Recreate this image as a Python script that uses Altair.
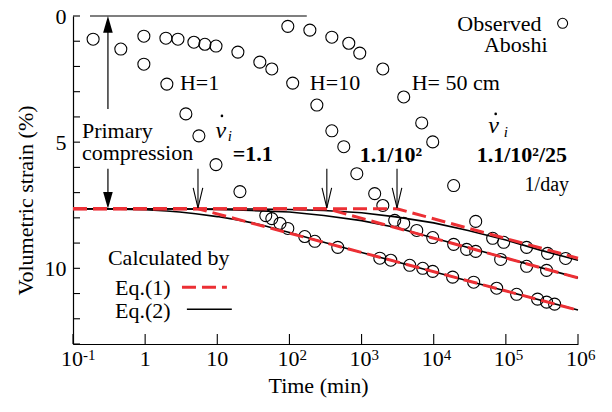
import altair as alt
import pandas as pd

FONT = "Liberation Serif"

# ---------------- data (time in min, volumetric strain in %) ----------------
obs_h1_t = [0.19, 0.46, 0.96, 2.0, 3.67, 5.56, 9.6, 20.6, 47, 57, 74, 95, 163, 225, 468,
            1790, 2540, 4650, 7040, 9690, 18300, 35800, 74600, 141000, 275000, 367000, 474000]
obs_h1_v = [0.92, 1.31, 1.91, 2.70, 3.88, 4.75, 5.89, 6.96, 7.91, 8.03, 8.22, 8.42, 8.74, 8.93, 9.17,
            9.60, 9.68, 9.88, 10.0, 10.12, 10.35, 10.55, 10.79, 11.03, 11.22, 11.34, 11.42]

obs_h10_t = [0.96, 1.94, 2.85, 4.74, 6.73, 9.6, 19.3, 38.9, 57, 111, 240, 387, 567, 859, 1520,
             1970, 2880, 3840, 5820, 9690, 18900, 28600, 38200, 84700, 194000, 367000]
obs_h10_v = [0.80, 0.88, 0.92, 1.04, 1.12, 1.19, 1.43, 1.83, 2.10, 2.66, 3.53, 4.55, 5.18, 6.25, 7.04,
             7.51, 8.10, 8.22, 8.50, 8.78, 9.05, 9.25, 9.33, 9.65, 9.92, 10.08]

obs_h50_t = [95, 192, 387, 665, 944, 1970, 3840, 6820, 9690, 18900, 38200, 65600, 93300, 194000, 379000, 673000]
obs_h50_v = [0.41, 0.56, 0.84, 1.08, 1.47, 2.10, 3.21, 4.24, 4.99, 6.72, 8.14, 8.81, 8.97, 9.17, 9.41, 9.61]

# Eq.(1) (red dashed)
eq1_h1_t = [0.1, 5.4, 1e6]
eq1_h1_v = [7.64, 7.64, 11.66]
eq1_h10_t = [0.1, 330, 1e6]
eq1_h10_v = [7.64, 7.64, 10.38]
eq1_h50_t = [0.1, 3100, 1e6]
eq1_h50_v = [7.64, 7.64, 9.60]

# Eq.(2) (black solid)
eq2_h1_t = [0.1, 0.3, 1, 2, 3, 5, 10, 20, 40, 100, 300, 1000, 1e4, 1e5, 1e6]
eq2_h1_v = [7.64, 7.65, 7.68, 7.73, 7.77, 7.84, 7.95, 8.09, 8.27, 8.58, 8.97, 9.37, 10.14, 10.90, 11.65]
eq2_h10_t = [0.1, 3, 10, 30, 100, 300, 1000, 3000, 1e4, 1e5, 1e6]
eq2_h10_v = [7.64, 7.65, 7.67, 7.71, 7.77, 7.91, 8.11, 8.38, 8.80, 9.59, 10.38]
eq2_h50_t = [0.1, 30, 100, 300, 1000, 3000, 1e4, 3e4, 1e5, 3e5, 1e6]
eq2_h50_v = [7.64, 7.65, 7.67, 7.71, 7.80, 7.96, 8.20, 8.50, 8.88, 9.28, 9.68]

# x tick labels: plain ones and power-of-ten ones (base "10" + exponent)
x_tick_values = [0.1, 1, 10, 100, 1000, 1e4, 1e5, 1e6]
x_plain_ticks = [1, 10]
x_plain_labels = ["1", "10"]
x_pow_ticks = [0.1, 100, 1000, 1e4, 1e5, 1e6]
x_pow_exponents = ["-1", "2", "3", "4", "5", "6"]
y_tick_values = list(range(0, 14))
y_label_values = [0, 5, 10]

kink_times = [5.4, 330, 3100]

# ---------------- frames ----------------
def frame(series):
    rows = []
    for name, ts, vs in series:
        for t, v in zip(ts, vs):
            rows.append({"s": name, "t": t, "v": v})
    return pd.DataFrame(rows)

obs = frame([("H1", obs_h1_t, obs_h1_v), ("H10", obs_h10_t, obs_h10_v), ("H50", obs_h50_t, obs_h50_v)])
eq1 = frame([("H1", eq1_h1_t, eq1_h1_v), ("H10", eq1_h10_t, eq1_h10_v), ("H50", eq1_h50_t, eq1_h50_v)])
eq2 = frame([("H1", eq2_h1_t, eq2_h1_v), ("H10", eq2_h10_t, eq2_h10_v), ("H50", eq2_h50_t, eq2_h50_v)])

W, H = 505, 328
xscale = alt.Scale(type="log", domain=[0.1, 1e6], nice=False)
yscale = alt.Scale(domain=[0, 13], reverse=True, nice=False, zero=False)

x_axis = alt.Axis(values=x_tick_values, labels=False,
                  ticks=False, tickSize=0, grid=False, domainColor="black", domainWidth=1.2,
                  title="Time (min)", titleFont=FONT, titleFontSize=22, titleFontWeight="normal",
                  titleColor="black", titleX=245, titleY=48, titleBaseline="alphabetic")
y_axis = alt.Axis(values=y_label_values, ticks=False, tickSize=0, grid=False, domainColor="black",
                  domainWidth=1.2, labelFont=FONT, labelFontSize=22, labelColor="black", labelPadding=7,
                  labelFlush=False,
                  title="Volumetric strain (%)", titleFont=FONT, titleFontSize=22, titleFontWeight="normal",
                  titleColor="black", titleX=-41, titleY=184, titleBaseline="alphabetic", titleAlign="center")


def X(f="t"):
    return alt.X(f"{f}:Q", scale=xscale, axis=x_axis)


def Y(f="v"):
    return alt.Y(f"{f}:Q", scale=yscale, axis=y_axis)


points = alt.Chart(obs).mark_point(shape="circle", size=144, filled=False, stroke="black",
                                   strokeWidth=1.1, opacity=1).encode(x=X(), y=Y(), detail="s:N")

black_lines = alt.Chart(eq2).mark_line(color="black", strokeWidth=1.6).encode(x=X(), y=Y(), detail="s:N")
red_lines = alt.Chart(eq1).mark_line(color="#ec2f34", strokeWidth=3, strokeDash=[14, 6]).encode(
    x=X(), y=Y(), detail="s:N")

# axis ticks (inward)
yt = alt.Chart(pd.DataFrame({"v": y_tick_values})).mark_rule(color="black", strokeWidth=1.1).encode(
    y=Y(), x=alt.value(0), x2=alt.value(7))
xt = alt.Chart(pd.DataFrame({"t": x_tick_values})).mark_rule(color="black", strokeWidth=1.1).encode(
    x=X(), y=alt.value(H), y2=alt.value(H - 10))

# x tick labels
xl_plain = alt.Chart(pd.DataFrame({"t": x_plain_ticks, "txt": x_plain_labels})).mark_text(
    font=FONT, fontSize=22, color="black", baseline="top", align="center").encode(
    x=X(), y=alt.value(H + 5), text="txt:N")
xl_base = alt.Chart(pd.DataFrame({"t": x_pow_ticks, "txt": ["10"] * len(x_pow_ticks)})).mark_text(
    font=FONT, fontSize=22, color="black", baseline="top", align="right", dx=10).encode(
    x=X(), y=alt.value(H + 5), text="txt:N")
xl_exp = alt.Chart(pd.DataFrame({"t": x_pow_ticks, "txt": x_pow_exponents})).mark_text(
    font=FONT, fontSize=15, color="black", baseline="top", align="left", dx=10).encode(
    x=X(), y=alt.value(H + 4), text="txt:N")

# annotations
top_line = alt.Chart(pd.DataFrame({"t": [0.172], "t2": [174], "v": [0]})).mark_rule(
    color="black", strokeWidth=1.2).encode(x=X(), x2="t2:Q", y=Y())

prim_shafts = alt.Chart(pd.DataFrame({"t": [0.305, 0.305], "v": [3.69, 6.05], "v2": [0.4, 7.3]})).mark_rule(
    color="black", strokeWidth=1.2).encode(x=X(), y=Y(), y2="v2:Q")
head_up = alt.Chart(pd.DataFrame({"t": [0.305], "v": [0.0]})).mark_point(
    shape="M0,0L0.6,2.1L-0.6,2.1Z", size=256, filled=True, color="black", opacity=1).encode(x=X(), y=Y())
head_down = alt.Chart(pd.DataFrame({"t": [0.305], "v": [7.64]})).mark_point(
    shape="M0,0L0.6,-2.1L-0.6,-2.1Z", size=256, filled=True, color="black", opacity=1).encode(x=X(), y=Y())

kink_df = pd.DataFrame({"t": kink_times, "v": [6.05] * 3, "v2": [7.6] * 3})
kink_shafts = alt.Chart(kink_df).mark_rule(color="black", strokeWidth=1.1).encode(x=X(), y=Y(), y2="v2:Q")
kink_heads = alt.Chart(pd.DataFrame({"t": kink_times, "v": [7.6] * 3})).mark_point(
    shape="M-0.6,-2.5L0,0L0.6,-2.5", size=256, filled=False, stroke="black", strokeWidth=1.1,
    opacity=1).encode(x=X(), y=Y())


def texts(df, **kw):
    base = dict(font=FONT, fontSize=22, color="black", baseline="alphabetic", align="left")
    base.update(kw)
    return alt.Chart(df).mark_text(**base).encode(x=X(), y=Y(), text="txt:N")


plain = texts(pd.DataFrame({
    "t": [3.03, 192, 4950, 0.133, 0.133, 0.305, 0.382, 0.382],
    "v": [2.93, 2.93, 2.93, 4.83, 5.70, 9.88, 11.06, 11.97],
    "txt": ["H=1", "H=10", "H= 50 cm", "Primary", "compression", "Calculated by", "Eq.(1)", "Eq.(2)"]}))
observed_t = texts(pd.DataFrame({"t": [313000], "v": [0.58], "txt": ["Observed"]}), align="right")
aboshi_t = texts(pd.DataFrame({"t": [137000], "v": [1.43], "txt": ["Aboshi"]}), align="center")
bold_t = texts(pd.DataFrame({"t": [16.4, 944, 39400], "v": [5.74, 5.78, 5.78],
                             "txt": ["=1.1", "1.1/10\u00b2", "1.1/10\u00b2/25"]}), fontWeight="bold")
day_t = texts(pd.DataFrame({"t": [182000], "v": [6.93], "txt": ["1/day"]}), fontSize=20)
v_t = texts(pd.DataFrame({"t": [11.2, 67800], "v": [4.83, 4.63], "txt": ["v", "v"]}),
            fontSize=24, fontStyle="italic", align="center")
i_t = texts(pd.DataFrame({"t": [14.0, 93300], "v": [4.95, 4.79], "txt": ["i", "i"]}),
            fontSize=15, fontStyle="italic")
dots = alt.Chart(pd.DataFrame({"t": [11.6, 72300], "v": [3.96, 3.88]})).mark_point(
    shape="circle", size=7, filled=True, color="black", opacity=1).encode(x=X(), y=Y())

leg_circle = alt.Chart(pd.DataFrame({"t": [612000], "v": [0.29]})).mark_point(
    shape="circle", size=100, filled=False, stroke="black", strokeWidth=1.1, opacity=1).encode(x=X(), y=Y())
leg_red = alt.Chart(pd.DataFrame({"t": [3.24, 13.6], "v": [10.75, 10.75]})).mark_line(
    color="#ec2f34", strokeWidth=3, strokeDash=[14, 6]).encode(x=X(), y=Y())
leg_black = alt.Chart(pd.DataFrame({"t": [3.79, 15.9], "v": [11.62, 11.62]})).mark_line(
    color="black", strokeWidth=1.6).encode(x=X(), y=Y())

chart = alt.layer(
    points, black_lines, red_lines, yt, xt, xl_plain, xl_base, xl_exp, top_line, prim_shafts,
    head_up, head_down, kink_shafts, kink_heads, plain, observed_t, aboshi_t, bold_t, day_t,
    v_t, i_t, dots, leg_circle, leg_red, leg_black
).properties(
    width=W, height=H,
    autosize=alt.AutoSizeParams(type="none"),
    padding={"left": 65, "top": 8, "right": 26, "bottom": 60},
).configure_view(stroke=None)

chart.save("out.html", embed_options={"renderer": "svg", "actions": False})
